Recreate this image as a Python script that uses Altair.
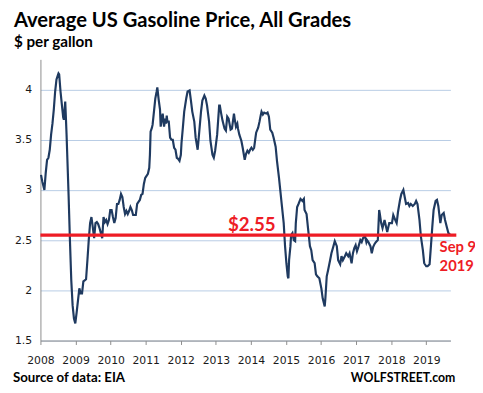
import altair as alt
import pandas as pd

# Weekly-ish readings of the average US gasoline price (all grades), $ per gallon
dates = [
    "2008-01-07", "2008-01-21", "2008-02-11", "2008-02-25", "2008-03-10", "2008-03-24",
    "2008-04-07", "2008-04-21", "2008-05-05", "2008-05-19", "2008-06-02", "2008-06-16",
    "2008-06-30", "2008-07-07", "2008-07-14", "2008-07-28", "2008-08-11", "2008-08-25",
    "2008-09-01", "2008-09-15", "2008-09-22", "2008-09-29", "2008-10-06", "2008-10-20",
    "2008-11-03", "2008-11-17", "2008-12-01", "2008-12-15", "2008-12-29",
    "2009-01-12", "2009-01-26", "2009-02-09", "2009-02-23", "2009-03-09", "2009-03-23",
    "2009-04-06", "2009-04-20", "2009-05-04", "2009-05-18", "2009-06-01", "2009-06-15",
    "2009-06-29", "2009-07-13", "2009-07-27", "2009-08-10", "2009-08-24", "2009-09-07",
    "2009-09-21", "2009-10-05", "2009-10-19", "2009-11-02", "2009-11-16", "2009-11-30",
    "2009-12-14", "2009-12-28",
    "2010-01-11", "2010-01-25", "2010-02-08", "2010-02-22", "2010-03-08", "2010-03-22",
    "2010-04-05", "2010-04-19", "2010-05-03", "2010-05-17", "2010-05-31", "2010-06-14",
    "2010-06-28", "2010-07-12", "2010-07-26", "2010-08-09", "2010-08-23", "2010-09-06",
    "2010-09-20", "2010-10-04", "2010-10-18", "2010-11-01", "2010-11-15", "2010-11-29",
    "2010-12-13", "2010-12-27",
    "2011-01-10", "2011-01-24", "2011-02-07", "2011-02-14", "2011-02-21", "2011-03-07",
    "2011-03-14", "2011-03-28", "2011-04-11", "2011-04-25", "2011-05-02", "2011-05-16",
    "2011-05-30", "2011-06-06", "2011-06-20", "2011-06-27", "2011-07-11", "2011-07-25",
    "2011-08-01", "2011-08-08", "2011-08-15", "2011-08-29", "2011-09-12", "2011-09-26",
    "2011-10-10", "2011-10-24", "2011-11-07", "2011-11-21", "2011-12-05", "2011-12-19",
    "2012-01-02", "2012-01-09", "2012-01-23", "2012-02-06", "2012-02-27", "2012-03-12",
    "2012-04-02", "2012-04-16", "2012-04-30", "2012-05-21", "2012-06-04", "2012-06-25",
    "2012-07-09", "2012-07-30", "2012-08-13", "2012-09-03", "2012-09-17", "2012-10-01",
    "2012-10-22", "2012-11-05", "2012-11-26", "2012-12-10", "2012-12-24",
    "2013-01-14", "2013-02-04", "2013-02-11", "2013-02-25", "2013-03-11", "2013-04-01",
    "2013-04-15", "2013-04-29", "2013-05-13", "2013-06-03", "2013-06-17", "2013-07-08",
    "2013-07-15", "2013-07-29", "2013-08-12", "2013-08-19", "2013-09-02", "2013-09-23",
    "2013-10-07", "2013-10-28", "2013-11-11", "2013-11-25", "2013-12-09", "2013-12-23",
    "2014-01-06", "2014-01-20", "2014-02-03", "2014-02-17", "2014-02-24", "2014-03-17",
    "2014-03-31", "2014-04-14", "2014-04-21", "2014-05-05", "2014-05-19", "2014-06-09",
    "2014-06-23", "2014-07-07", "2014-07-21", "2014-08-11", "2014-08-25", "2014-09-15",
    "2014-09-29", "2014-10-20", "2014-11-03", "2014-11-17", "2014-12-08", "2014-12-22",
    "2015-01-05", "2015-01-19", "2015-01-26", "2015-02-02", "2015-02-16", "2015-02-23",
    "2015-03-09", "2015-03-23", "2015-04-06", "2015-04-13", "2015-04-27", "2015-05-11",
    "2015-06-01", "2015-06-22", "2015-07-06", "2015-07-13", "2015-08-03", "2015-08-17",
    "2015-09-07", "2015-09-21", "2015-10-05", "2015-10-26", "2015-11-09", "2015-11-23",
    "2015-12-14",
    "2016-01-04", "2016-01-18", "2016-02-08", "2016-02-15", "2016-02-29", "2016-03-14",
    "2016-04-04", "2016-04-18", "2016-05-09", "2016-05-23", "2016-06-13", "2016-06-27",
    "2016-07-18", "2016-08-01", "2016-08-15", "2016-09-05", "2016-09-19", "2016-10-10",
    "2016-10-24", "2016-11-14", "2016-11-28", "2016-12-12", "2016-12-26",
    "2017-01-09", "2017-01-23", "2017-02-13", "2017-02-27", "2017-03-13", "2017-04-03",
    "2017-04-17", "2017-04-24", "2017-05-08", "2017-05-29", "2017-06-12", "2017-06-26",
    "2017-07-10", "2017-07-24", "2017-08-14", "2017-08-28", "2017-09-04", "2017-09-18",
    "2017-10-02", "2017-10-23", "2017-11-06", "2017-11-20", "2017-12-11", "2017-12-25",
    "2018-01-08", "2018-01-22", "2018-02-12", "2018-02-26", "2018-03-12", "2018-04-02",
    "2018-04-16", "2018-05-07", "2018-05-21", "2018-06-04", "2018-06-25", "2018-07-09",
    "2018-07-23", "2018-08-13", "2018-09-03", "2018-09-17", "2018-10-01", "2018-10-22",
    "2018-11-05", "2018-11-26", "2018-12-10", "2018-12-31",
    "2019-01-14", "2019-02-04", "2019-02-18", "2019-03-04", "2019-03-18", "2019-04-08",
    "2019-04-22", "2019-05-06", "2019-05-27", "2019-06-10", "2019-07-01", "2019-07-15",
    "2019-08-05", "2019-08-19", "2019-09-09",
]
prices = [
    3.15, 3.08, 3.00, 3.17, 3.30, 3.32,
    3.40, 3.55, 3.66, 3.80, 3.98, 4.10,
    4.14, 4.16, 4.15, 3.98, 3.85, 3.72,
    3.70, 3.88, 3.72, 3.55, 3.35, 2.95,
    2.50, 2.10, 1.85, 1.72, 1.67,
    1.78, 1.90, 2.02, 1.97, 1.97, 2.09,
    2.10, 2.11, 2.30, 2.50, 2.67, 2.73,
    2.63, 2.52, 2.67, 2.68, 2.66, 2.62,
    2.57, 2.52, 2.73, 2.68, 2.70, 2.66,
    2.70, 2.80,
    2.80, 2.73, 2.67, 2.72, 2.86, 2.86,
    2.90, 2.96, 2.93, 2.83, 2.76, 2.79,
    2.76, 2.79, 2.83, 2.80, 2.75, 2.75,
    2.75, 2.86, 2.88, 2.90, 2.95, 2.96,
    3.06, 3.12,
    3.14, 3.16, 3.22, 3.35, 3.58, 3.62,
    3.65, 3.78, 3.91, 3.98, 4.02, 3.90,
    3.80, 3.63, 3.72, 3.76, 3.63, 3.71,
    3.66, 3.74, 3.68, 3.68, 3.52, 3.50,
    3.50, 3.42, 3.40, 3.32, 3.31, 3.29,
    3.35, 3.47, 3.62, 3.78, 3.91, 3.98,
    3.99, 3.89, 3.78, 3.68, 3.52, 3.40,
    3.55, 3.78, 3.89, 3.94, 3.91, 3.84,
    3.68, 3.49, 3.35, 3.32, 3.39,
    3.55, 3.84, 3.84, 3.76, 3.69, 3.61,
    3.59, 3.73, 3.71, 3.60, 3.61, 3.76,
    3.71, 3.63, 3.66, 3.61, 3.55, 3.49,
    3.42, 3.30, 3.36, 3.39, 3.37, 3.40,
    3.42, 3.40, 3.42, 3.52, 3.57, 3.62,
    3.68, 3.75, 3.78, 3.75, 3.77, 3.76,
    3.77, 3.73, 3.60, 3.57, 3.52, 3.43,
    3.29, 3.12, 2.99, 2.86, 2.67, 2.44,
    2.27, 2.14, 2.12, 2.30, 2.44, 2.55,
    2.57, 2.50, 2.49, 2.67, 2.83, 2.86,
    2.91, 2.89, 2.91, 2.80, 2.76, 2.63,
    2.44, 2.40, 2.30, 2.27, 2.16, 2.14,
    2.12,
    2.02, 1.92, 1.84, 1.92, 2.14, 2.20,
    2.30, 2.37, 2.44, 2.49, 2.44, 2.30,
    2.26, 2.34, 2.30, 2.34, 2.37, 2.34,
    2.37, 2.27, 2.37, 2.42, 2.45,
    2.39, 2.43, 2.50, 2.48, 2.52, 2.54,
    2.48, 2.50, 2.48, 2.44, 2.37, 2.43,
    2.46, 2.48, 2.50, 2.80, 2.76, 2.67,
    2.62, 2.70, 2.64, 2.58, 2.67, 2.67,
    2.67, 2.75, 2.70, 2.67, 2.78, 2.90,
    2.96, 3.00, 2.93, 2.86, 2.87, 2.84,
    2.86, 2.84, 2.86, 2.89, 2.86, 2.70,
    2.54, 2.40, 2.27, 2.24,
    2.24, 2.26, 2.44, 2.63, 2.80, 2.89,
    2.90, 2.84, 2.67, 2.75, 2.77, 2.70,
    2.62, 2.57, 2.55,
]
latest_price = [2.55]
latest_label = ["$2.55"]
date_label = ["Sep 9", "2019"]
y_ticks = [1.5, 2, 2.5, 3, 3.5, 4]

df = pd.DataFrame({"date": pd.to_datetime(dates), "price": prices})

RED = "#ee1c25"
NAVY = "#1f3a60"
FONT_T = "Lato"
FONT_A = "DejaVu Sans"

x_enc = alt.X(
    "date:T",
    scale=alt.Scale(domain=["2008-01-01", "2019-09-09"]),
    axis=alt.Axis(
        title=None, format="%Y", tickCount={"interval": "year", "step": 1},
        grid=False, domainColor="#8c8c8c", tickColor="#8c8c8c", tickSize=4,
        labelFont=FONT_A, labelFontSize=11, labelColor="#1a1a1a", labelPadding=10,
        labelAlign="center", labelFlush=False,
    ),
)
y_enc = alt.Y(
    "price:Q",
    scale=alt.Scale(domain=[1.5, 4.3], nice=False, zero=False),
    axis=alt.Axis(
        title=None, values=y_ticks, format="~g", grid=True, gridColor="#b8cce4",
        gridWidth=1, ticks=False, domainColor="#8c8c8c", labelFont=FONT_A,
        labelFontSize=11, labelColor="#1a1a1a", labelPadding=9,
    ),
)

line = alt.Chart(df).mark_line(color=NAVY, strokeWidth=2.2).encode(x=x_enc, y=y_enc)

rule_df = pd.DataFrame({"v": latest_price, "t": latest_label})
rule = alt.Chart(rule_df).mark_rule(color=RED, strokeWidth=3.5).encode(
    y=alt.Y("v:Q"), x=alt.value(0), x2=alt.value(423)
)
price_text = alt.Chart(rule_df).mark_text(
    color=RED, font=FONT_T, fontWeight="bold", fontSize=19, align="center",
    baseline="alphabetic", dy=-4,
).encode(y=alt.Y("v:Q"), x=alt.value(215), text="t:N")


def label(txt, x, y, size, align="left", color="#000000"):
    return alt.Chart(pd.DataFrame({"t": [txt]})).mark_text(
        font=FONT_T, fontWeight="bold", fontSize=size, align=align,
        baseline="alphabetic", color=color,
    ).encode(x=alt.value(x), y=alt.value(y), text="t:N")


date1 = label(date_label[0], 406, 196, 15, color=RED)
date2 = label(date_label[1], 406, 215, 15, color=RED)
title = label("Average US Gasoline Price, All Grades", -27, -33, 20.5)
subtitle = label("$ per gallon", -27, -13, 15.5)
source = label("Source of data: EIA", -28, 328, 13.5)
brand = label("WOLFSTREET.com", 422, 328, 12.5, align="right")

chart = alt.layer(
    line, rule, price_text, date1, date2, title, subtitle, source, brand
).properties(
    width=417, height=286,
    padding={"left": 33, "top": 49, "right": 25, "bottom": 45},
    autosize=alt.AutoSizeParams(type="none"),
    background="white",
).configure_view(stroke=None)

chart.save("out.html", embed_options={"renderer": "svg", "actions": False})
